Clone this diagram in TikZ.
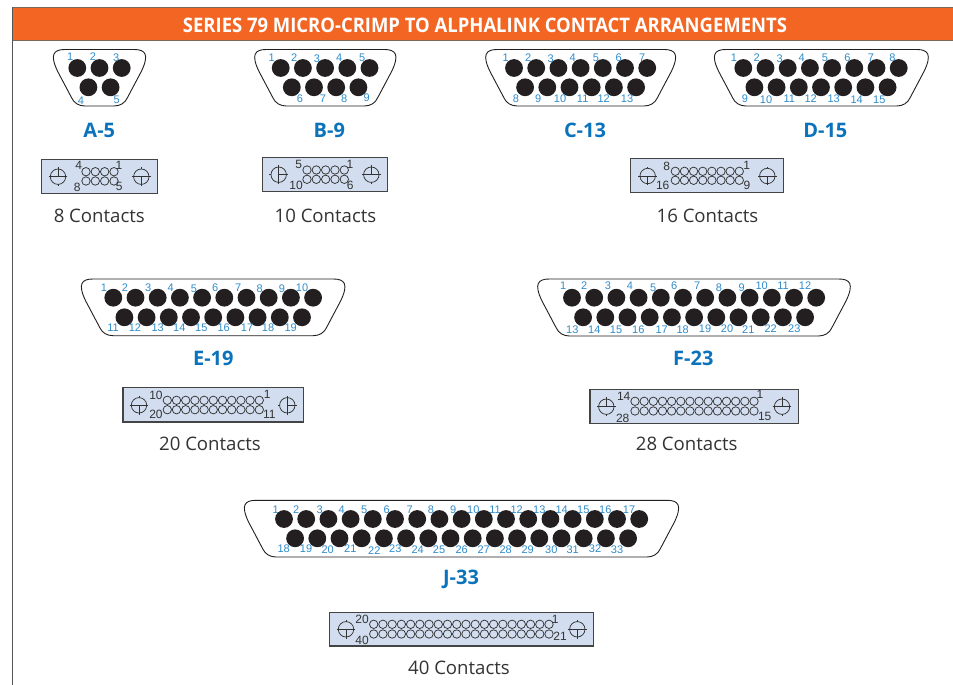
\documentclass[tikz,border=0pt]{standalone}
\usepackage{fontspec}
\setmainfont{Liberation Sans}
\newfontfamily\headfont{Open Sans}
\usetikzlibrary{calc}
\definecolor{hdr}{HTML}{F36522}
\definecolor{hdrline}{HTML}{7A6A5A}
\definecolor{frameln}{HTML}{555555}
\definecolor{pinblk}{HTML}{231F20}
\definecolor{pinblue}{HTML}{2F8CCB}
\definecolor{capblue}{HTML}{0B72BC}
\definecolor{facefill}{HTML}{D2DEF0}
\definecolor{txtgray}{HTML}{333333}
\tikzset{
  shellline/.style={draw=pinblk,line width=0.9pt,fill=white},
  pinhole/.style={fill=pinblk,draw=none},
  pinnum/.style={inner sep=0pt,text=pinblue,font=\fontsize{11}{11}\selectfont},
  facenum/.style={inner sep=0pt,text=txtgray,font=\fontsize{12}{12}\selectfont},
  capname/.style={inner sep=0pt,text=capblue,font=\headfont\bfseries\fontsize{20}{20}\selectfont},
  countname/.style={inner sep=0pt,text=txtgray,font=\headfont\fontsize{18.6}{18.6}\selectfont},
  faceplate/.style={draw=frameln!80!black,line width=1.1pt,fill=facefill},
  ring/.style={draw=txtgray,line width=0.75pt},
  screwline/.style={draw=txtgray,line width=0.75pt},
}
% shell: L R T B
\newcommand{\dshell}[4]{%
  \pgfmathsetmacro{\vl}{#1-7}\pgfmathsetmacro{\vr}{#2+7}%
  \pgfmathsetmacro{\wl}{\vl+0.53*(#4-#3)}\pgfmathsetmacro{\wr}{\vr-0.53*(#4-#3)}%
  \draw[shellline] (\vl+19,#3) -- (\vr-19,#3)
    .. controls (\vr-7.5,#3) and (\vr-3.5,#3+5) .. (\vr-11.7,#3+22)
    -- (\wr+4.2,#4-8) .. controls (\wr+2,#4-3) and (\wr-3,#4) .. (\wr-9,#4)
    -- (\wl+9,#4) .. controls (\wl+3,#4) and (\wl-2,#4-3) .. (\wl-4.2,#4-8)
    -- (\vl+11.7,#3+22) .. controls (\vl+3.5,#3+5) and (\vl+7.5,#3) .. (\vl+19,#3) -- cycle;
}
% pins: x1 y1 y2 n1 n2
\newcommand{\dpins}[5]{%
  \foreach \i in {1,...,#4}{\fill[pinhole] ({#1+(\i-1)*22.2},#2) circle (8.9);}%
  \foreach \i in {1,...,#5}{\fill[pinhole] ({#1+11.1+(\i-1)*22.2},#3) circle (8.9);}%
}
% screw: x y angle
\newcommand{\dscrew}[3]{%
  \begin{scope}[shift={(#1,#2)}]
  \draw[screwline] (0,0) circle (7.7);
  \draw[screwline] (-9.4,0)--(-7.7,0) (9.4,0)--(7.7,0) (0,-9.4)--(0,-7.7) (0,9.4)--(0,7.7);
  \draw[screwline] ({-7.7*sin(#3)},{-7.7*cos(#3)}) -- ({7.7*sin(#3)},{7.7*cos(#3)});
  \draw[screwline] (0,0) -- ({7.7*cos(#3)},{-7.7*sin(#3)});
  \end{scope}
}
% rings: x1 x2 y1 y2 n
\newcommand{\drings}[5]{%
  \foreach \i in {1,...,#5}{%
    \pgfmathsetmacro{\xx}{#1+(\i-1)*(#2-#1)/(#5-1)}%
    \draw[ring] (\xx,#3) circle (4.2);
    \draw[ring] (\xx,#4) circle (4.2);
  }%
}
\newcommand{\pinlabels}[2]{\foreach \t/\x/\y in {#2}{\node[pinnum] (#1p\t) at (\x,\y) {\t};}}
\newcommand{\facelabels}[2]{\foreach \t/\x/\y in {#2}{\node[facenum] (#1f\t) at (\x,\y) {\t};}}
\begin{document}
\begin{tikzpicture}[x=1pt,y=-1pt]
\useasboundingbox (0,0) rectangle (953,685);
\fill[white] (0,0) rectangle (953,685);
% frame and header
\draw[frameln,line width=1pt] (12.5,7.5) -- (12.5,685);
\fill[hdr] (12.5,8) rectangle (953,40);
\draw[hdrline,line width=1pt] (12.5,7.7) -- (953,7.7);
\draw[hdrline,line width=0.8pt] (12.5,40.2) -- (953,40.2);
\node[inner sep=0pt,text=white] (title) at (485,25.2)
  {\resizebox{604pt}{14.5pt}{\headfont\bfseries SERIES 79 MICRO-CRIMP TO ALPHALINK CONTACT ARRANGEMENTS}};

% A-5
\dshell{53}{146}{49.5}{106}
\dpins{77.3}{68}{87.3}{3}{2}
\pinlabels{A}{1/70.3/56.7,2/93/56.3,3/116.3/57.3,4/81/100.7,5/116.7/99.7}
\node[capname] (capA) at (99.3,130) {A-5};
\draw[faceplate] (41.7,159.3) rectangle (157.3,193.3);
\dscrew{58}{176.7}{90}\dscrew{141.3}{176.7}{270}
\drings{86}{114}{171.7}{181}{4}
\facelabels{A}{4/78.7/165.7,1/119/165.7,8/77.3/187.3,5/119.3/186}
\node[countname] (cntA) at (99.3,215.5) {8 Contacts};

% B-9
\dshell{254.3}{396.3}{49.5}{106}
\dpins{280.7}{68}{87.3}{5}{4}
\pinlabels{B}{1/271.7/57.7,2/294.3/57.3,3/317/58.7,4/339.3/57.7,5/362.3/57.3,6/300/98.7,7/323/98.7,8/344.3/98.7,9/366.7/98}
\node[capname] (capB) at (329.3,130) {B-9};
\draw[faceplate] (262.7,157.7) rectangle (387.7,191.7);
\dscrew{278.7}{174.7}{0}\dscrew{371.3}{174.7}{90}
\drings{307}{344.3}{170}{179.3}{5}
\facelabels{B}{5/298.7/164.7,1/350/164.7,10/296/185.3,6/350.3/185.3}
\node[countname] (cntB) at (325.5,215.5) {10 Contacts};

% C-13
\dshell{485.3}{676}{49.5}{106}
\dpins{514}{68}{87.3}{7}{6}
\pinlabels{C}{1/505.7/57.7,2/528.3/57.3,3/550.7/58.3,4/572.7/57.7,5/596/57.3,6/618.7/57.3,7/642.3/57.3,8/516/98.7,9/538.3/98.7,10/560/98.7,11/582.7/98.7,12/603.7/98.3,13/627/98.7}
\node[capname] (capC) at (585,130) {C-13};

% D-15
\dshell{714}{928.7}{49.5}{106}
\dpins{743.3}{68}{87.3}{8}{7}
\pinlabels{D}{1/734/57.7,2/756.7/57.3,3/779.7/58.3,4/801.7/57.7,5/825/57.3,6/847.3/57.3,7/871/57.3,8/892.3/57.3,9/745/98.3,10/766/99.7,11/789.3/98.3,12/810.7/98.3,13/833.7/98.3,14/856.7/99.3,15/879.3/99.3}
\node[capname] (capD) at (825.3,130) {D-15};

% shared face for C and D
\draw[faceplate] (630.7,158.7) rectangle (783.7,192.7);
\dscrew{647.7}{176}{270}\dscrew{767.3}{176}{270}
\drings{675.3}{739.3}{171.3}{180.3}{8}
\facelabels{C}{8/666.7/166,1/746.7/165.7,16/662.7/185.7,9/747/185.7}
\node[countname] (cntC) at (707.5,215.5) {16 Contacts};

% E-19
\dshell{81}{345.3}{279}{335.7}
\dpins{113.3}{297.7}{317.3}{10}{9}
\pinlabels{E}{1/104/287.7,2/125/287.7,3/148.3/287.7,4/170.7/287.3,5/194/288.7,6/215.3/287.7,7/238.3/287.3,8/259.7/288.7,9/282/288.3,10/302/287.3,11/113/327.3,12/135/327.3,13/157.7/327.7,14/179.3/327.3,15/201.3/327.3,16/223.7/327.3,17/247/327.3,18/268/327.3,19/290.7/327.3}
\node[capname] (capE) at (213.3,358.3) {E-19};
\draw[faceplate] (123,387.7) rectangle (303.3,422);
\dscrew{139}{405.3}{270}\dscrew{287.3}{405.3}{0}
\drings{167.3}{259.3}{400.3}{409.7}{11}
\facelabels{E}{10/156/395.7,1/267.3/394.7,20/156/414.3,11/269.3/414.3}
\node[countname] (cntE) at (210,443.5) {20 Contacts};

% F-23
\dshell{537.3}{850.7}{279}{336}
\dpins{572}{297.7}{317.3}{12}{11}
\pinlabels{F}{1/563.3/286,2/584.3/286,3/608/286,4/630/286,5/653.3/287.3,6/674.3/286,7/697.3/286,8/719/287.3,9/741.7/287.3,10/761.7/286,11/783/286,12/805/286,13/572.3/329.3,14/594.3/329.3,15/616/329.3,16/638.3/329.3,17/661.7/329.3,18/682.7/329.3,19/705/328.3,20/727/328.3,21/748.3/329.3,22/770.7/328.3,23/794.3/328.3}
\node[capname] (capF) at (693.3,358.3) {F-23};
\draw[faceplate] (590,389.3) rectangle (798.3,423.3);
\dscrew{606.3}{406.7}{90}\dscrew{782}{406.7}{90}
\drings{635}{754}{401.3}{411}{14}
\facelabels{F}{14/623.7/396,1/760/394.3,28/622.7/418,15/764.7/416.7}
\node[countname] (cntF) at (686.7,443.5) {28 Contacts};

% J-33
\dshell{244}{679}{500.3}{557}
\dpins{284}{519}{538.3}{17}{16}
\pinlabels{J}{1/275.7/509.3,2/296.3/509.3,3/319.7/509.3,4/341.7/509.3,5/364.3/509.3,6/386.7/509.3,7/409.7/509.3,8/431/509.3,9/453.3/509.3,10/473.3/509.3,11/495/509.3,12/516.7/509.3,13/539.3/509.3,14/561.7/509.3,15/583.3/509.3,16/605.3/509.3,17/629/509.3,18/283.7/548.3,19/306/548.3,20/327.7/549.3,21/350.3/548.3,22/374.3/550.3,23/395.3/548.3,24/417.7/549.3,25/439/549.3,26/461.7/549.3,27/483.7/549.3,28/505.7/549.3,29/527.7/549.3,30/551.3/549.3,31/572.7/549.3,32/595/548.3,33/617/549.3}
\node[capname] (capJ) at (461,579) {J-33};
\draw[faceplate] (329.3,612.3) rectangle (593.3,646);
\dscrew{346}{629.3}{270}\dscrew{577.3}{629.3}{270}
\drings{373.7}{549}{624.3}{634}{20}
\facelabels{J}{20/362/619,1/555.3/619,40/362/640,21/560/636.7}
\node[countname] (cntJ) at (459,668.3) {40 Contacts};
\end{tikzpicture}
\end{document}
